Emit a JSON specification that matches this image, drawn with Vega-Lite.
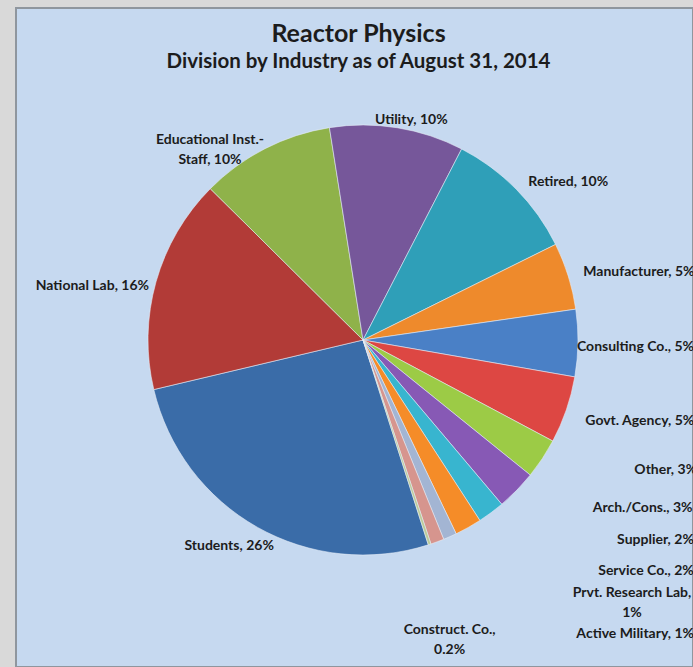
{
  "$schema": "https://vega.github.io/schema/vega-lite/v6.json",
  "width": 677,
  "height": 659,
  "autosize": {"type": "none"},
  "padding": {"left": 16, "top": 8, "right": 0, "bottom": 0},
  "background": "#d9d9d9",
  "config": {
    "view": {"fill": "#c6d9f0", "stroke": "#8f969e", "strokeWidth": 2},
    "text": {"font": "Lato", "fontWeight": "bold", "fontSize": 14, "color": "#1c1c1c", "lineBreak": "\n", "lineHeight": 20, "baseline": "middle"}
  },
  "title": {
    "text": "Reactor Physics",
    "subtitle": "Division by Industry as of August 31, 2014",
    "anchor": "middle",
    "frame": "group",
    "offset": -64,
    "dx": 4,
    "font": "Lato",
    "fontSize": 25,
    "fontWeight": "bold",
    "color": "#1c1c1c",
    "subtitleFont": "Lato",
    "subtitleFontSize": 20.5,
    "subtitleFontWeight": "bold",
    "subtitleColor": "#1c1c1c",
    "subtitlePadding": 5
  },
  "data": {
    "values": [
      {"name": "Students", "label": "Students, 26%", "value": 26, "order": 1},
      {"name": "National Lab", "label": "National Lab, 16%", "value": 16, "order": 2},
      {"name": "Educational Inst.-Staff", "label": "Educational Inst.-\nStaff, 10%", "value": 10, "order": 3},
      {"name": "Utility", "label": "Utility, 10%", "value": 10, "order": 4},
      {"name": "Retired", "label": "Retired, 10%", "value": 10, "order": 5},
      {"name": "Manufacturer", "label": "Manufacturer, 5%", "value": 5, "order": 6},
      {"name": "Consulting Co.", "label": "Consulting Co., 5%", "value": 5, "order": 7},
      {"name": "Govt. Agency", "label": "Govt. Agency, 5%", "value": 5, "order": 8},
      {"name": "Other", "label": "Other, 3%", "value": 3, "order": 9},
      {"name": "Arch./Cons.", "label": "Arch./Cons., 3%", "value": 3, "order": 10},
      {"name": "Supplier", "label": "Supplier, 2%", "value": 2, "order": 11},
      {"name": "Service Co.", "label": "Service Co., 2%", "value": 2, "order": 12},
      {"name": "Prvt. Research Lab", "label": "Prvt. Research Lab,\n1%", "value": 1, "order": 13},
      {"name": "Active Military", "label": "Active Military, 1%", "value": 1, "order": 14},
      {"name": "Construct. Co.", "label": "Construct. Co.,\n0.2%", "value": 0.2, "order": 15}
    ]
  },
  "encoding": {
    "theta": {"field": "value", "type": "quantitative", "stack": true, "scale": {"domain": [0, 99.2], "range": [2.833, 9.116]}},
    "order": {"field": "order", "type": "quantitative", "sort": "ascending"},
    "x": {"value": 347},
    "y": {"value": 332}
  },
  "layer": [
    {
      "mark": {"type": "arc", "outerRadius": 215, "stroke": "#e8eef8", "strokeWidth": 0.8, "strokeOpacity": 0.7},
      "encoding": {
        "color": {
          "field": "name", "type": "nominal", "legend": null,
          "scale": {
            "domain": ["Students", "National Lab", "Educational Inst.-Staff", "Utility", "Retired", "Manufacturer", "Consulting Co.", "Govt. Agency", "Other", "Arch./Cons.", "Supplier", "Service Co.", "Prvt. Research Lab", "Active Military", "Construct. Co."],
            "range": ["#3a6ca8", "#b23b37", "#8fb24a", "#76579a", "#2f9fb8", "#ee8a2c", "#4a80c6", "#dd4743", "#9ccb46", "#8759b5", "#38b5cf", "#f58c28", "#a3b5d3", "#d6958e", "#bccb98"]
          }
        }
      }
    },
    {"mark": {"type": "text", "radius": 215, "align": "center", "dx": 14, "dy": -8}, "encoding": {"text": {"condition": {"test": "datum.name === 'Utility'", "field": "label"}, "value": ""}}},
    {"mark": {"type": "text", "radius": 215, "align": "center", "dx": 52, "dy": -7}, "encoding": {"text": {"condition": {"test": "datum.name === 'Retired'", "field": "label"}, "value": ""}}},
    {"mark": {"type": "text", "radius": 215, "align": "left", "dx": 15, "dy": -4}, "encoding": {"text": {"condition": {"test": "datum.name === 'Manufacturer'", "field": "label"}, "value": ""}}},
    {"mark": {"type": "text", "radius": 215, "align": "left", "dx": -1, "dy": 4}, "encoding": {"text": {"condition": {"test": "datum.name === 'Consulting Co.'", "field": "label"}, "value": ""}}},
    {"mark": {"type": "text", "radius": 215, "align": "left", "dx": 19, "dy": 11}, "encoding": {"text": {"condition": {"test": "datum.name === 'Govt. Agency'", "field": "label"}, "value": ""}}},
    {"mark": {"type": "text", "radius": 215, "align": "left", "dx": 92, "dy": 11}, "encoding": {"text": {"condition": {"test": "datum.name === 'Other'", "field": "label"}, "value": ""}}},
    {"mark": {"type": "text", "radius": 215, "align": "left", "dx": 76, "dy": 18}, "encoding": {"text": {"condition": {"test": "datum.name === 'Arch./Cons.'", "field": "label"}, "value": ""}}},
    {"mark": {"type": "text", "radius": 215, "align": "left", "dx": 126, "dy": 27}, "encoding": {"text": {"condition": {"test": "datum.name === 'Supplier'", "field": "label"}, "value": ""}}},
    {"mark": {"type": "text", "radius": 215, "align": "left", "dx": 130, "dy": 44}, "encoding": {"text": {"condition": {"test": "datum.name === 'Service Co.'", "field": "label"}, "value": ""}}},
    {"mark": {"type": "text", "radius": 215, "align": "center", "dx": 182, "dy": 56}, "encoding": {"text": {"condition": {"test": "datum.name === 'Prvt. Research Lab'", "field": "label"}, "value": ""}}},
    {"mark": {"type": "text", "radius": 215, "align": "left", "dx": 139, "dy": 92}, "encoding": {"text": {"condition": {"test": "datum.name === 'Active Military'", "field": "label"}, "value": ""}}},
    {"mark": {"type": "text", "radius": 215, "align": "center", "dx": 20, "dy": 86}, "encoding": {"text": {"condition": {"test": "datum.name === 'Construct. Co.'", "field": "label"}, "value": ""}}},
    {"mark": {"type": "text", "radius": 215, "align": "center", "dx": -28, "dy": 19}, "encoding": {"text": {"condition": {"test": "datum.name === 'Students'", "field": "label"}, "value": ""}}},
    {"mark": {"type": "text", "radius": 215, "align": "right", "dx": -7, "dy": 4}, "encoding": {"text": {"condition": {"test": "datum.name === 'National Lab'", "field": "label"}, "value": ""}}},
    {"mark": {"type": "text", "radius": 215, "align": "center", "dx": -55, "dy": -9}, "encoding": {"text": {"condition": {"test": "datum.name === 'Educational Inst.-Staff'", "field": "label"}, "value": ""}}}
  ]
}
